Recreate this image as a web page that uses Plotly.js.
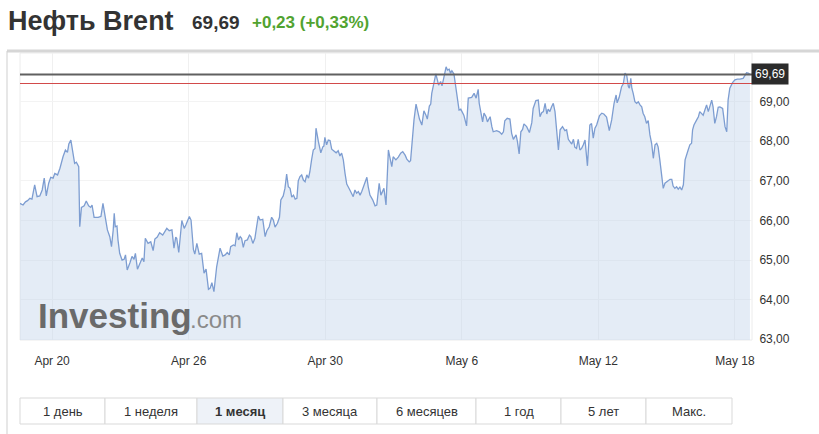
<!DOCTYPE html>
<html>
<head>
<meta charset="utf-8">
<script src="https://cdn.plot.ly/plotly-3.0.1.min.js"></script>
<style>
  html, body { margin: 0; padding: 0; background: #ffffff; }
  #chart { width: 819px; height: 434px; }
</style>
</head>
<body>
<div id="chart"></div>
<script>
// ---- data (time in trading days from Apr 20 00:00, price in USD) ----
const days = [
  -0.94,-0.85,-0.78,-0.72,-0.65,-0.59,-0.51,-0.44,-0.36,-0.29,
  -0.23,-0.17,-0.10,-0.04,0.03,0.08,0.16,0.23,0.32,0.39,
  0.45,0.49,0.55,0.61,0.66,0.71,0.78,0.81,0.86,0.94,
  1.00,1.07,1.13,1.17,1.23,1.35,1.43,1.49,1.56,1.62,
  1.69,1.74,1.79,1.82,1.85,1.90,1.93,1.98,2.05,2.11,
  2.15,2.20,2.28,2.34,2.40,2.44,2.50,2.57,2.64,2.69,
  2.73,2.81,2.89,2.96,3.01,3.08,3.15,3.24,3.31,3.36,
  3.43,3.51,3.57,3.62,3.65,3.71,3.80,3.87,3.92,4.02,
  4.07,4.14,4.18,4.24,4.31,4.38,4.45,4.51,4.58,4.63,
  4.68,4.74,4.82,4.92,5.00,5.07,5.13,5.19,5.23,5.31,
  5.36,5.41,5.46,5.51,5.55,5.60,5.65,5.72,5.78,5.82,
  5.88,5.94,5.99,6.04,6.09,6.17,6.24,6.29,6.36,6.43,
  6.48,6.53,6.60,6.66,6.70,6.77,6.82,6.87,6.92,6.97,
  7.02,7.07,7.12,7.17,7.21,7.26,7.31,7.36,7.41,7.46,
  7.51,7.55,7.60,7.65,7.70,7.73,7.80,7.87,7.93,7.96,
  7.99,8.04,8.09,8.14,8.19,8.26,8.32,8.38,8.43,8.48,
  8.53,8.58,8.63,8.71,8.78,8.82,8.87,8.92,8.97,9.02,
  9.07,9.17,9.22,9.26,9.31,9.39,9.46,9.51,9.58,9.63,
  9.68,9.72,9.78,9.85,9.90,9.95,9.99,10.07,10.14,10.21,
  10.27,10.34,10.39,10.46,10.50,10.56,10.60,10.66,10.70,10.76,
  10.83,10.89,10.95,10.99,11.05,11.09,11.12,11.17,11.22,11.24,
  11.29,11.32,11.38,11.42,11.46,11.51,11.54,11.58,11.63,11.67,
  11.71,11.77,11.83,11.87,11.92,11.97,12.03,12.06,12.14,12.19,
  12.29,12.36,12.42,12.48,12.51,12.55,12.61,12.65,12.71,12.75,
  12.83,12.88,12.92,13.02,13.10,13.17,13.22,13.26,13.33,13.41,
  13.46,13.51,13.59,13.63,13.68,13.73,13.78,13.82,13.90,13.98,
  14.05,14.09,14.17,14.24,14.29,14.34,14.39,14.44,14.49,14.53,
  14.58,14.63,14.68,14.73,14.78,14.83,14.88,14.95,15.02,15.07,
  15.12,15.17,15.22,15.27,15.31,15.36,15.41,15.46,15.51,15.56,
  15.61,15.68,15.70,15.75,15.80,15.85,15.90,15.95,16.03,16.10,
  16.16,16.24,16.32,16.39,16.46,16.52,16.55,16.61,16.68,16.73,
  16.78,16.83,16.88,16.91,16.95,16.98,17.02,17.07,17.12,17.17,
  17.22,17.27,17.31,17.36,17.41,17.46,17.51,17.56,17.61,17.66,
  17.71,17.75,17.80,17.85,17.90,17.95,18.00,18.05,18.10,18.15,
  18.19,18.24,18.29,18.34,18.39,18.44,18.49,18.54,18.59,18.63,
  18.68,18.73,18.76,18.80,18.88,18.93,18.97,19.02,19.07,19.12,
  19.17,19.22,19.27,19.32,19.36,19.41,19.46,19.51,19.56,19.64,
  19.71,19.76,19.80,19.85,19.93,20.00,20.07,20.15,20.24,20.29,
  20.34,20.39,20.44
];
const price = [
  66.43,66.39,66.47,66.50,66.56,66.54,66.90,66.60,66.62,66.77,
  67.07,66.62,66.94,67.09,67.07,67.19,67.15,67.32,67.61,67.78,
  67.72,67.93,68.03,67.74,67.44,67.47,67.36,65.84,66.33,66.37,
  66.49,66.37,66.33,66.39,66.08,66.08,66.10,66.43,66.10,65.76,
  65.59,65.34,65.76,66.18,65.84,65.86,65.51,65.17,65.00,65.02,
  65.13,64.75,64.93,65.09,65.02,65.17,64.77,64.92,65.05,64.96,
  65.55,65.42,65.46,65.24,65.53,65.58,65.69,65.63,65.72,65.80,
  65.74,65.76,65.30,65.58,65.55,65.19,66.00,65.80,65.89,66.10,
  66.01,65.26,65.15,65.42,65.15,65.17,64.67,64.77,64.26,64.29,
  64.43,64.20,64.83,65.30,65.10,65.13,65.19,65.13,65.34,65.38,
  65.36,65.69,65.51,65.59,65.55,65.32,65.49,65.51,65.63,65.59,
  65.42,65.55,65.84,66.11,66.01,66.03,65.59,65.74,65.84,66.08,
  66.01,65.83,65.93,66.08,66.52,66.62,66.81,67.17,66.85,66.81,
  66.59,66.64,66.54,66.56,67.00,67.11,67.15,67.02,66.98,67.15,
  67.07,67.23,67.53,67.78,67.82,68.33,67.99,67.71,67.86,67.88,
  68.10,67.91,68.03,68.02,67.80,67.76,67.71,67.76,67.63,67.70,
  67.53,67.19,66.92,66.79,66.69,66.60,66.77,66.69,66.73,66.64,
  66.73,66.94,67.09,66.85,66.64,66.52,66.37,66.39,66.94,66.64,
  66.73,66.81,66.39,67.78,67.57,67.36,67.61,67.53,67.60,67.70,
  67.74,67.65,67.55,67.48,67.51,68.20,68.54,68.94,68.79,68.56,
  68.41,68.77,68.66,68.56,68.89,68.94,69.21,69.42,69.62,69.70,
  69.53,69.42,69.51,69.40,69.55,69.80,69.88,69.80,69.82,69.72,
  69.78,69.70,69.38,69.09,68.79,68.81,68.72,68.66,68.39,69.09,
  69.11,69.21,69.09,69.31,68.96,68.77,68.49,68.71,68.62,68.49,
  68.62,68.37,68.24,68.27,68.24,68.18,68.24,68.52,68.58,68.56,
  68.20,68.05,68.16,67.99,67.68,68.24,68.30,68.44,68.37,68.22,
  68.47,68.83,69.03,69.04,68.62,68.72,68.75,68.96,68.69,68.81,
  68.75,68.87,68.96,68.75,68.33,67.78,68.29,68.37,68.27,68.29,
  68.05,67.99,67.93,68.05,67.85,67.82,68.05,67.78,67.82,67.91,
  68.03,67.38,67.61,68.41,68.45,68.08,68.33,68.41,68.64,68.71,
  68.69,68.61,68.27,68.54,68.96,69.17,68.97,69.11,69.38,69.45,
  69.72,69.67,69.38,69.34,69.59,69.34,69.21,69.00,68.96,69.00,
  68.92,68.87,68.71,68.62,68.45,68.52,68.16,67.95,67.57,67.91,
  67.95,67.86,67.53,67.19,66.81,66.94,66.98,67.01,67.04,67.04,
  66.87,66.81,66.85,66.79,66.84,66.77,66.90,67.53,67.70,67.78,
  67.91,67.95,68.29,68.41,68.54,68.62,68.75,68.71,68.66,68.79,
  68.92,68.75,68.87,69.04,68.87,68.45,68.62,68.86,68.87,68.83,
  68.37,68.24,69.04,69.34,69.48,69.55,69.57,69.57,69.59,69.65,
  69.73,69.72,69.69
];
const tickDays = [0, 4, 8, 12, 16, 20];
const tickLabels = ['Apr 20', 'Apr 26', 'Apr 30', 'May 6', 'May 12', 'May 18'];
const priceTicks = [63, 64, 65, 66, 67, 68, 69];
const lastPrice = 69.69;
const prevClose = 69.46;
const instrument = 'Нефть Brent';
const changeText = '+0,23 (+0,33%)';
const rangeLabels = ['1 день', '1 неделя', '1 месяц', '3 месяца', '6 месяцев', '1 год', '5 лет', 'Макс.'];
const selectedRange = 2;

// ---- layout helpers (pixel -> paper) ----
const L = 20, R = 752, T = 53, B = 340, W = 819, H = 434;
const pxX = x => (x - L) / (R - L);
const pxY = y => (B - y) / (B - T);
const FONT = 'Arial, "Liberation Sans", sans-serif';

const shapes = [
  // container borders
  {type: 'line', xref: 'paper', yref: 'paper', x0: pxX(7), x1: pxX(819), y0: pxY(51), y1: pxY(51),
   line: {color: '#d6d6d6', width: 3}},
  {type: 'line', xref: 'paper', yref: 'paper', x0: pxX(7), x1: pxX(7), y0: pxY(51), y1: pxY(434),
   line: {color: '#cfcfcf', width: 1}},
  // plot frame
  {type: 'rect', xref: 'paper', yref: 'paper', x0: 0, x1: 1, y0: 0, y1: 1,
   line: {color: '#ececec', width: 1}, layer: 'below'},
  // previous close and last price lines
  {type: 'line', xref: 'paper', yref: 'y', x0: 0, x1: 1, y0: prevClose, y1: prevClose,
   line: {color: '#d24a4a', width: 1.2}},
  {type: 'line', xref: 'paper', yref: 'y', x0: 0, x1: 1, y0: lastPrice, y1: lastPrice,
   line: {color: '#606060', width: 2}}
];

const annotations = [
  {xref: 'paper', yref: 'paper', x: pxX(6), y: pxY(21), xanchor: 'left', yanchor: 'middle',
   text: '<b>' + instrument + '</b>', showarrow: false, font: {family: FONT, size: 27, color: '#333333'}},
  {xref: 'paper', yref: 'paper', x: pxX(190), y: pxY(22), xanchor: 'left', yanchor: 'middle',
   text: '<b>' + lastPrice.toFixed(2).replace('.', ',') + '</b>', showarrow: false,
   font: {family: FONT, size: 19, color: '#333333'}},
  {xref: 'paper', yref: 'paper', x: pxX(250), y: pxY(22), xanchor: 'left', yanchor: 'middle',
   text: '<b>' + changeText + '</b>', showarrow: false, font: {family: FONT, size: 17, color: '#51a330'}},
  // watermark
  {xref: 'paper', yref: 'paper', x: pxX(36), y: pxY(315), xanchor: 'left', yanchor: 'middle',
   text: '<b>Investing</b>', showarrow: false, font: {family: FONT, size: 35, color: '#6a6a6a'}},
  {xref: 'paper', yref: 'paper', x: pxX(188), y: pxY(319), xanchor: 'left', yanchor: 'middle',
   text: '.com', showarrow: false, font: {family: FONT, size: 24, color: '#8a8a8a'}},
  // last price tag
  {xref: 'paper', yref: 'y', x: pxX(751), y: lastPrice, xanchor: 'left', yanchor: 'middle',
   text: lastPrice.toFixed(2).replace('.', ','), showarrow: false, bgcolor: '#2b2b2b', borderpad: 3,
   font: {family: FONT, size: 12, color: '#ffffff'}}
];

// range buttons
const btnEdges = [20, 105, 197, 283, 377, 476, 561, 646, 732];
rangeLabels.forEach((lab, i) => {
  const sel = i === selectedRange;
  shapes.push({type: 'rect', xref: 'paper', yref: 'paper',
    x0: pxX(btnEdges[i]), x1: pxX(btnEdges[i + 1]), y0: pxY(424), y1: pxY(398),
    fillcolor: sel ? '#eef2f8' : '#ffffff', line: {color: '#d9d9d9', width: 1}});
  annotations.push({xref: 'paper', yref: 'paper', x: pxX((btnEdges[i] + btnEdges[i + 1]) / 2), y: pxY(411),
    xanchor: 'center', yanchor: 'middle', showarrow: false,
    text: sel ? '<b>' + lab + '</b>' : lab, font: {family: FONT, size: 13, color: '#333333'}});
});

const trace = {
  x: days, y: price, type: 'scatter', mode: 'lines',
  line: {color: '#7d9dd1', width: 1.3},
  fill: 'tozeroy', fillcolor: 'rgba(196,213,234,0.45)',
  hoverinfo: 'skip'
};

const layout = {
  width: W, height: H,
  margin: {l: L, r: W - R, t: T, b: H - B, pad: 0},
  paper_bgcolor: '#ffffff', plot_bgcolor: '#ffffff',
  separators: ', ',
  showlegend: false,
  font: {family: FONT, size: 12, color: '#333333'},
  xaxis: {
    range: [-0.94, 20.5], tickmode: 'array', tickvals: tickDays, ticktext: tickLabels,
    showgrid: true, gridcolor: '#f0f0f0', zeroline: false, showline: false,
    ticks: 'outside', ticklen: 10, tickcolor: 'rgba(0,0,0,0)',
    tickfont: {family: FONT, size: 12, color: '#333333'}, fixedrange: true
  },
  yaxis: {
    side: 'right', range: [62.98, 70.23], tickmode: 'array', tickvals: priceTicks,
    tickformat: '.2f', showgrid: true, gridcolor: '#f3f3f3', zeroline: false, showline: false,
    ticks: 'outside', ticklen: 4, tickcolor: 'rgba(0,0,0,0)',
    tickfont: {family: FONT, size: 12, color: '#333333'}, fixedrange: true
  },
  shapes: shapes,
  annotations: annotations
};

Plotly.newPlot('chart', [trace], layout, {staticPlot: true, displayModeBar: false});
</script>
</body>
</html>
